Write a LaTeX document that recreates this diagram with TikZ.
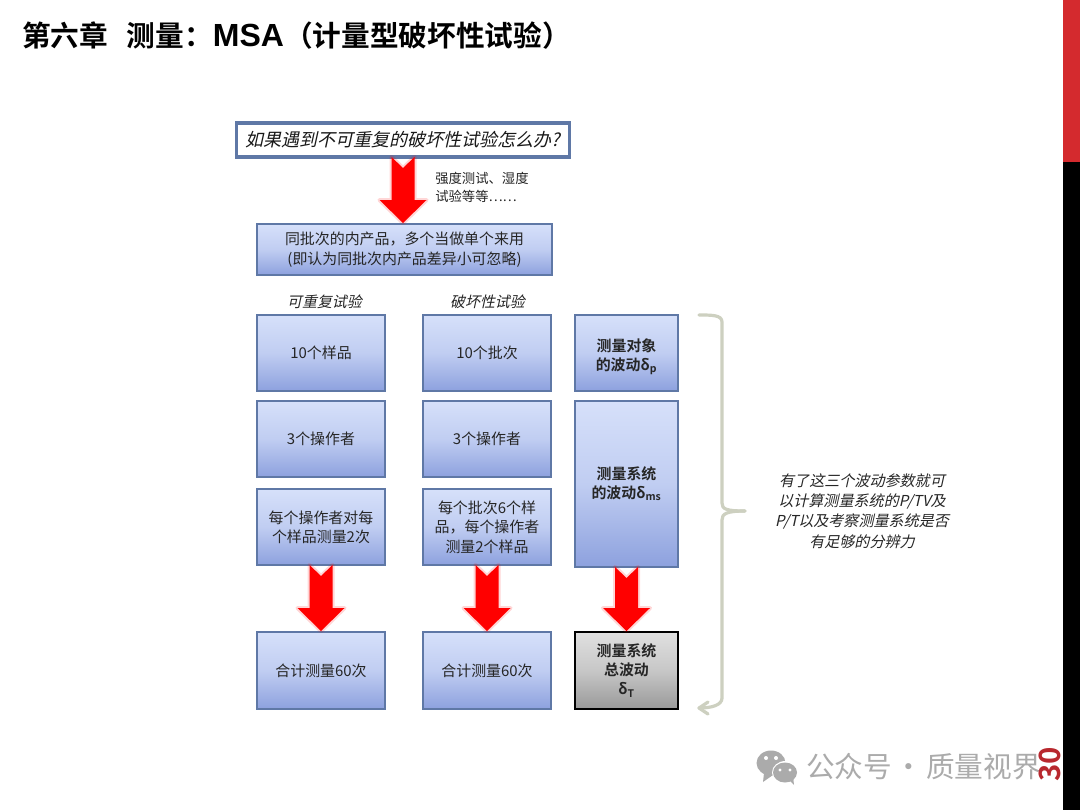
\documentclass[tikz,border=0pt]{standalone}
\usepackage{fontspec}
\usetikzlibrary{calc,arrows.meta}
\setmainfont{Noto Sans CJK SC}
\newfontfamily\cjkit{Noto Sans CJK SC}[FakeSlant=0.22]
\newfontfamily\cjkbf{Noto Sans CJK SC Bold}
\newfontfamily\latinbf{Liberation Sans Bold}
\newcommand{\fwcomma}{\char"FF0C\relax}
\newcommand{\fwcolon}{\char"FF1A\relax}
\newcommand{\fwopen}{\char"FF08\relax}
\newcommand{\fwclose}{\char"FF09\relax}
\def\px{0.75pt}
\definecolor{boxedge}{HTML}{5F78A6}
\definecolor{boxtop}{HTML}{D6E0FA}
\definecolor{boxbot}{HTML}{8DA1DE}
\definecolor{bracecol}{HTML}{CDD0C0}
\definecolor{wmgray}{HTML}{ABABAB}
\definecolor{pagered}{HTML}{D42A2E}
\definecolor{numred}{HTML}{B8282E}
\tikzset{
  x=0.75pt,y=-0.75pt,
  bluebox/.style={draw=boxedge,line width=1.5pt,top color=boxtop,bottom color=boxbot,middle color=boxtop!70!boxbot,
    outer sep=0pt,inner sep=0pt,align=center,font=\fontsize{11.2}{14.5}\selectfont,text=black!85},
  headbox/.style={bluebox,font=\cjkbf\fontsize{11.2}{14.2}\selectfont},
  graybox/.style={headbox,draw=black,top color=black!12,bottom color=black!40,middle color=black!22},
  questionbox/.style={draw=boxedge,line width=2.4pt,fill=white,outer sep=0pt,inner sep=0pt,
    font=\cjkit\fontsize{13.5}{16}\selectfont,text=black!90},
  collabel/.style={font=\cjkit\fontsize{11.2}{14}\selectfont,text=black!85,inner sep=0pt},
  notetext/.style={font=\fontsize{10}{13.2}\selectfont,text=black!85,align=left,inner sep=0pt},
  sidetext/.style={font=\cjkit\fontsize{11.3}{15.2}\selectfont,text=black!85,align=center,inner sep=0pt},
  bracestyle/.style={draw=bracecol,line width=2.4pt,line cap=round,line join=round},
  arrowglow/.style={draw=red,line width=3pt,opacity=.16,line join=round},
  arrowfill/.style={fill=red,draw=none},
}
% block arrow with a notched tail from the foot of #1 straight down to the head of #2
\newcommand{\blockarrow}[2]{%
  \foreach \st in {arrowglow,arrowfill}{%
  \path[\st] ($(#1.south)+(-11.5,0)$) -- ($(#1.south)+(0,11)$) -- ($(#1.south)+(11.5,0)$)
    -- ($(#2.north -| #1.south)+(11.5,-24)$) -- ($(#2.north -| #1.south)+(23.5,-24)$) -- ($(#2.north -| #1.south)+(0,-1)$)
    -- ($(#2.north -| #1.south)+(-23.5,-24)$) -- ($(#2.north -| #1.south)+(-11.5,-24)$) -- cycle;}%
}
\begin{document}
\begin{tikzpicture}
\useasboundingbox (0,0) rectangle (1080,810);
\fill[white] (0,0) rectangle (1080,810);
% side bar
\fill[pagered] (1063,0) rectangle (1080,162);
\fill[black] (1063,162) rectangle (1080,810);
% title
\node[anchor=west,inner sep=0pt,font=\cjkbf\fontsize{21.5}{24}\selectfont] (title) at (22,36)
  {第六章\hspace{0.65em}测量\fwcolon{\latinbf\fontsize{24}{24}\selectfont MSA}\fwopen 计量型破坏性试验\fwclose};
% question
\node[questionbox,minimum width=333*\px,minimum height=34*\px] (q) at (403,140) {如果遇到不可重复的破坏性试验怎么办?\hspace{6pt}};
\node[notetext,anchor=north west] (note) at (435,172) {强度测试、湿度\\试验等等……};
\node[bluebox,minimum width=295*\px,minimum height=51*\px] (same) at (404.5,249.5)
  {同批次的内产品\fwcomma 多个当做单个来用\\(即认为同批次内产品差异小可忽略)};
% column labels
\node[collabel] (la) at (324.5,302) {可重复试验};
\node[collabel] (lb) at (487.5,302) {破坏性试验};
% column 1
\node[bluebox,minimum width=128*\px,minimum height=76*\px] (a1) at (321,353) {10个样品};
\node[bluebox,minimum width=128*\px,minimum height=76*\px] (a2) at (321,439) {3个操作者};
\node[bluebox,minimum width=128*\px,minimum height=76*\px] (a3) at (321,527) {每个操作者对每\\个样品测量2次};
\node[bluebox,minimum width=128*\px,minimum height=77*\px] (a4) at (321,670.5) {合计测量60次};
% column 2
\node[bluebox,minimum width=128*\px,minimum height=76*\px] (b1) at (487,353) {10个批次};
\node[bluebox,minimum width=128*\px,minimum height=76*\px] (b2) at (487,439) {3个操作者};
\node[bluebox,minimum width=128*\px,minimum height=76*\px] (b3) at (487,527) {每个批次6个样\\品\fwcomma 每个操作者\\测量2个样品};
\node[bluebox,minimum width=128*\px,minimum height=77*\px] (b4) at (487,670.5) {合计测量60次};
% column 3
\node[headbox,minimum width=103*\px,minimum height=76*\px] (c1) at (626.5,353) {\\[-0pt]测量对象\\的波动δ\textsubscript{p}\\[-12pt]\mbox{}};
\node[headbox,minimum width=103*\px,minimum height=166*\px] (c2) at (626.5,484) {测量系统\\的波动δ\textsubscript{ms}};
\node[graybox,minimum width=103*\px,minimum height=77*\px] (c3) at (626.5,670.5) {测量系统\\总波动\\δ\textsubscript{T}};
% arrows
\blockarrow{q}{same}
\blockarrow{a3}{a4}
\blockarrow{b3}{b4}
\blockarrow{c2}{c3}
% brace
\coordinate (bracetop) at (699,315);
\coordinate (braceend) at (699,708);
\coordinate (bracetip) at (745,511);
\draw[bracestyle] (bracetop) .. controls (712,315) and (722,315) .. (722,322) -- (722,503)
  .. controls (722,509) and (726,511) .. (bracetip);
\draw[bracestyle] (bracetip) .. controls (726,511) and (722,514) .. (722,520) -- (722,698)
  .. controls (722,705) and (712,708) .. (braceend);
\draw[bracestyle] (708,702) -- (braceend) -- (708,714);
\node[sidetext] (side) at (862,511) {有了这三个波动参数就可\\以计算测量系统的P/TV及\\P/T以及考察测量系统是否\\有足够的分辨力};
% watermark
\fill[wmgray] (771,763) ellipse (14.5 and 12.5);
\fill[wmgray] (764,773) -- (763,782) -- (773,775) -- cycle;
\fill[white] (785.5,772.5) ellipse (13.5 and 11.5);
\fill[wmgray] (785,772.5) ellipse (12 and 10);
\fill[wmgray] (789,780) -- (794,785) -- (793,776) -- cycle;
\fill[white] (766,758) circle (2) (776,758) circle (2) (780,770) circle (1.7) (790,770) circle (1.7);
\node[anchor=west,inner sep=0pt,text=wmgray,font=\fontsize{21.5}{24}\selectfont] (wm) at (806,767)
  {公众号\makebox[25.5pt][c]{·}质量视界};
% page number
\node[rotate=90,inner sep=0pt,text=numred,font=\cjkbf\fontsize{22}{24}\selectfont] (page) at (1050,764) {30};
\end{tikzpicture}
\end{document}
